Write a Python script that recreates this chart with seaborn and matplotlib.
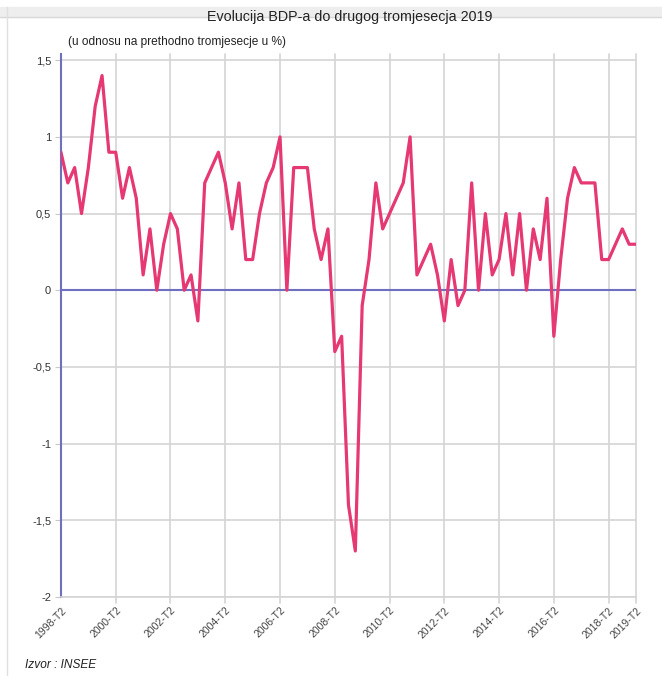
import matplotlib
matplotlib.use('Agg')
import matplotlib.pyplot as plt
import seaborn as sns
import pandas as pd

# kvartali od 1998-T2 do 2019-T2
kvartali = [f'{1998 + (i + 1) // 4}-T{(i + 1) % 4 + 1}' for i in range(85)]
rast = [0.9, 0.7, 0.8, 0.5, 0.8, 1.2, 1.4, 0.9, 0.9, 0.6,
        0.8, 0.6, 0.1, 0.4, 0.0, 0.3, 0.5, 0.4, 0.0, 0.1,
        -0.2, 0.7, 0.8, 0.9, 0.7, 0.4, 0.7, 0.2, 0.2, 0.5,
        0.7, 0.8, 1.0, 0.0, 0.8, 0.8, 0.8, 0.4, 0.2, 0.4,
        -0.4, -0.3, -1.4, -1.7, -0.1, 0.2, 0.7, 0.4, 0.5, 0.6,
        0.7, 1.0, 0.1, 0.2, 0.3, 0.1, -0.2, 0.2, -0.1, 0.0,
        0.7, 0.0, 0.5, 0.1, 0.2, 0.5, 0.1, 0.5, 0.0, 0.4,
        0.2, 0.6, -0.3, 0.2, 0.6, 0.8, 0.7, 0.7, 0.7, 0.2,
        0.2, 0.3, 0.4, 0.3, 0.3]
oznake_x = ['1998-T2', '2000-T2', '2002-T2', '2004-T2', '2006-T2', '2008-T2',
            '2010-T2', '2012-T2', '2014-T2', '2016-T2', '2018-T2', '2019-T2']
y_ticks = [-2, -1.5, -1, -0.5, 0, 0.5, 1, 1.5]

df = pd.DataFrame({'kvartal': kvartali, 'rast': rast})
df['pos'] = range(len(df))

sns.set_style('white')
plt.rcParams['font.family'] = ['Liberation Sans', 'DejaVu Sans']

fig = plt.figure(figsize=(6.62, 6.76), dpi=100)
ax = fig.add_axes([0.0921, 0.1169, 0.8686, 0.8031])

plava = '#6f6fbf'
for y in y_ticks:
    if y != 0:
        ax.axhline(y, color='#d4d4d4', lw=1.2, zorder=0)
pos_x = [kvartali.index(k) for k in oznake_x]
for x in pos_x[1:]:
    ax.axvline(x, color='#d4d4d4', lw=1.2, zorder=0, ymin=-0.012, clip_on=False)
ax.axhline(0, color=plava, lw=1.5, zorder=1)

sns.lineplot(data=df, x='pos', y='rast', color='#e63872', lw=2.3, ax=ax, zorder=3)

ax.set_xlim(0, 84)
ax.set_ylim(-2, 1.54)
ax.set_yticks(y_ticks)
ax.set_yticklabels([f'{v:g}'.replace('.', ',') for v in y_ticks], fontsize=8, color='#333333')
ax.set_xticks(pos_x)
ax.set_xticklabels(oznake_x, rotation=45, ha='right', rotation_mode='anchor',
                   fontsize=7.5, color='#444444')
ax.tick_params(axis='y', length=4, color='#c8c8c8', pad=3, left=True)
ax.tick_params(axis='x', length=0, pad=6)
ax.set_xlabel('')
ax.set_ylabel('')

for s in ['top', 'right']:
    ax.spines[s].set_visible(False)
ax.spines['left'].set_color(plava)
ax.spines['left'].set_linewidth(1.5)
ax.spines['bottom'].set_color('#d4d4d4')
ax.spines['bottom'].set_linewidth(1.2)

# okvir i traka naslova
fig.patches.append(plt.Rectangle((0.0, 1 - 17 / 676), 1.0, 10 / 676, transform=fig.transFigure,
                                 color='#eeeeee', zorder=0))
fig.lines.append(plt.Line2D([0, 1], [1 - 17 / 676] * 2, transform=fig.transFigure,
                            color='#d8d8d8', lw=1))
fig.lines.append(plt.Line2D([7 / 662] * 2, [0, 1 - 7 / 676], transform=fig.transFigure,
                            color='#e0e0e0', lw=1))

fig.text(350 / 662, 1 - 17 / 676, 'Evolucija BDP-a do drugog tromjesecja 2019',
         ha='center', va='center', fontsize=10.3, color='#222222')
fig.text(68 / 662, 1 - 42 / 676, '(u odnosu na prethodno tromjesecje u %)',
         ha='left', va='center', fontsize=8.6, color='#222222')
fig.text(25 / 662, 1 - 665 / 676, 'Izvor : INSEE', ha='left', va='center',
         fontsize=8.6, style='italic', color='#222222')

fig.savefig('out.png', dpi=100)
